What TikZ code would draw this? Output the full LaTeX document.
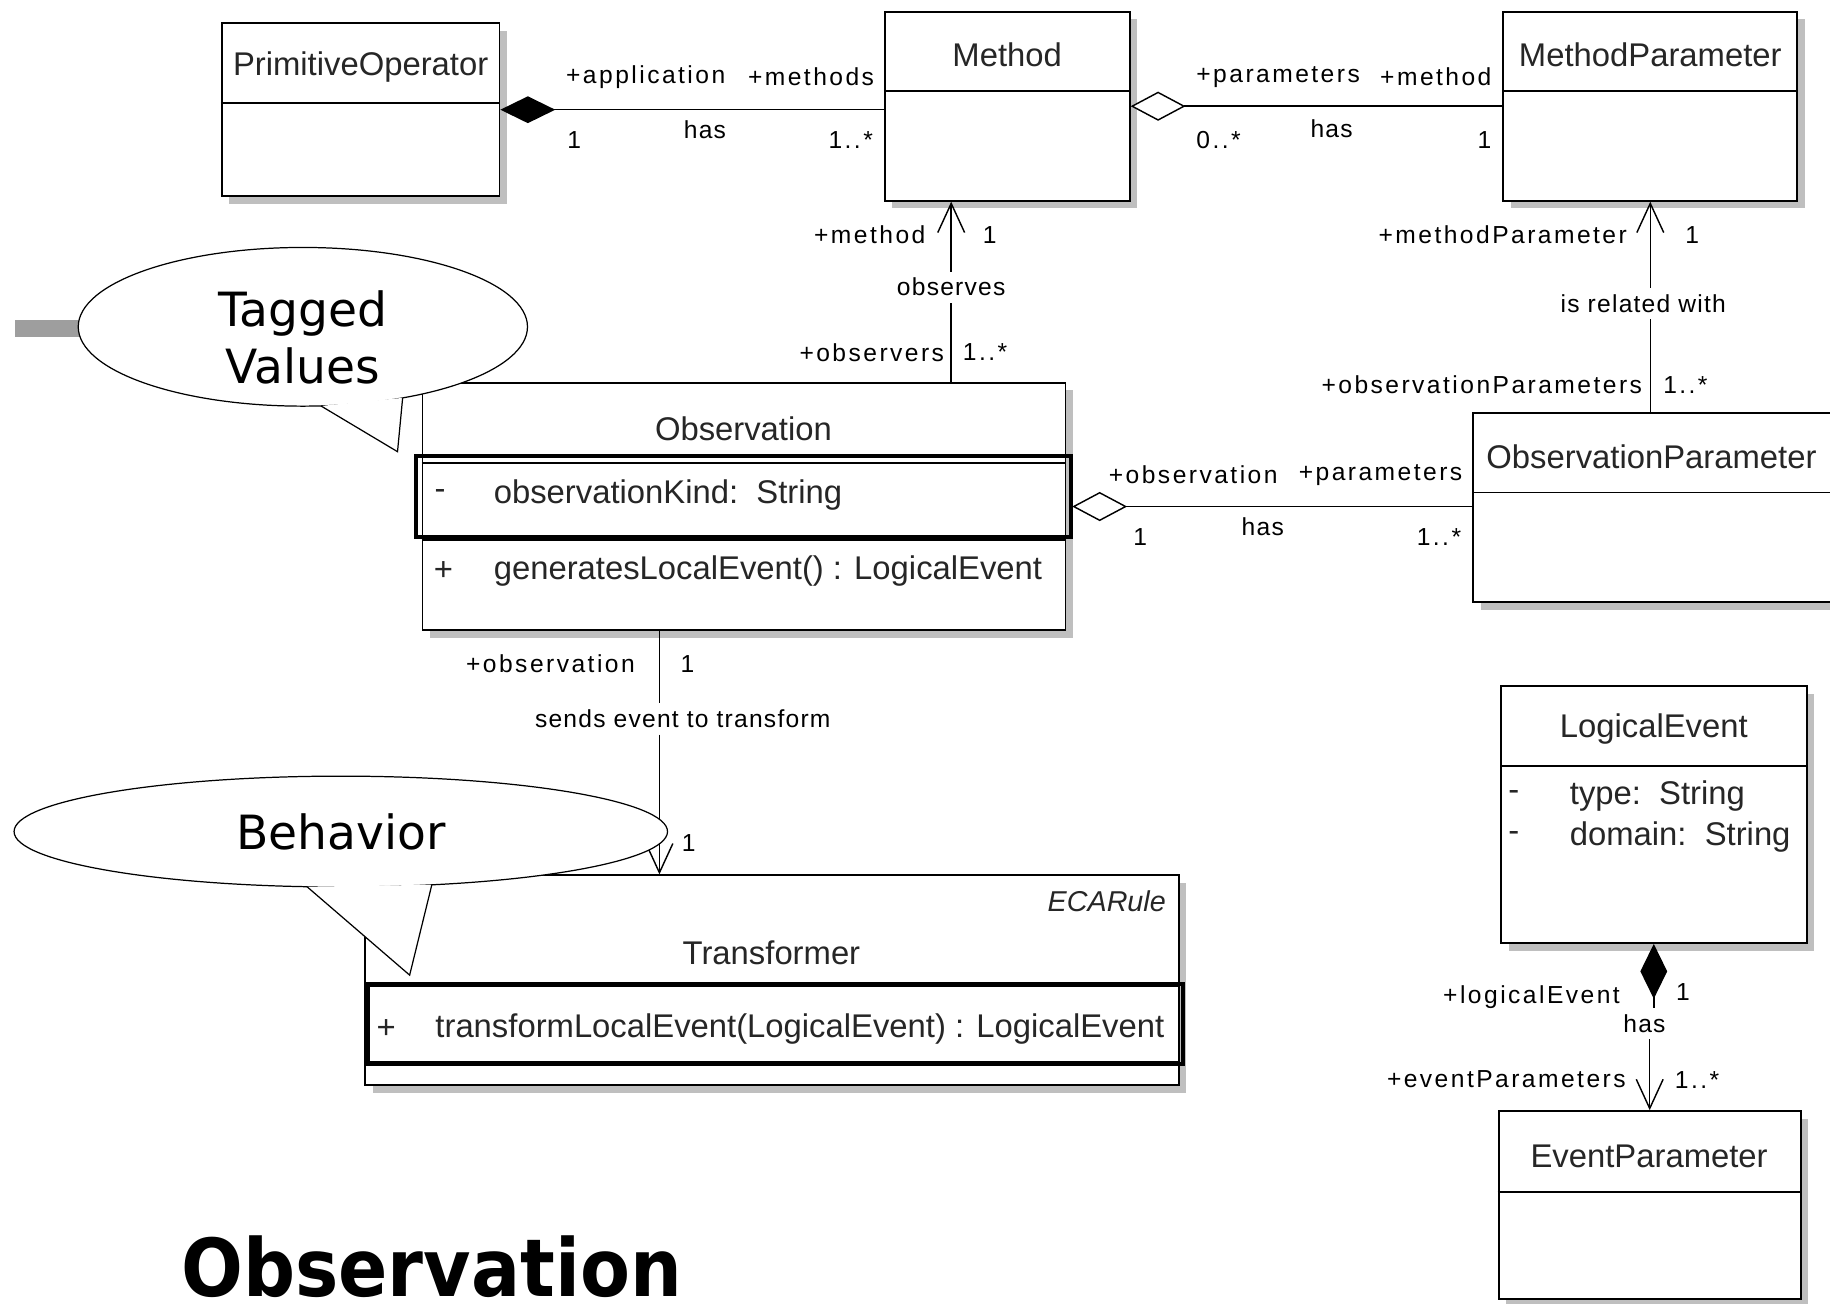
\documentclass[tikz,border=0pt]{standalone}
\usepackage{fontspec}
\setmainfont{Liberation Sans}
\newfontfamily\lblfont[LetterSpace=10]{Liberation Sans}
\newfontfamily\namefont[LetterSpace=5]{Liberation Sans}
\newfontfamily\bubblefont{DejaVu Sans}
\newfontfamily\headfont[FakeStretch=0.91]{DejaVu Sans}
\usetikzlibrary{shapes,positioning,calc,arrows.meta,shadows}

\begin{document}
\begin{tikzpicture}[
    x=0.02cm,
    y=-0.02cm,
    cls/.style={draw,line width=0.9pt,fill=white,inner sep=0pt,
      drop shadow={shadow xshift=0.13cm,shadow yshift=-0.13cm,fill=black!25,opacity=1}},
    hilite/.style={draw,line width=2pt,inner sep=0pt},
    sep/.style={line width=0.9pt},
    txt/.style={font=\fontsize{16}{19}\selectfont,text=black!85,inner sep=1pt},
    lbl/.style={font=\lblfont\fontsize{12}{14}\selectfont,inner sep=1pt},
    assoc/.style={font=\namefont\fontsize{12}{14}\selectfont,inner sep=3pt},
    line/.style={line width=0.7pt},
    nav/.style={-{Straight Barb[length=0.5cm,width=0.46cm]}},
    comp/.style={{Diamond[length=0.94cm,width=0.46cm]}-},
    aggr/.style={{Diamond[fill=white,length=0.94cm,width=0.5cm]}-},
    bubble/.style={ellipse,draw,fill=white,line width=0.6pt,inner sep=0pt,
      font=\bubblefont\fontsize{23}{28}\selectfont},
    bubbletxt/.style={align=center,inner sep=0pt,font=\bubblefont\fontsize{23}{28}\selectfont}
    ]
    \useasboundingbox (0,0) rectangle (1568,1117);
    \clip (0,0) rectangle (1568,1117);

    % classes
    \node[cls,minimum width=4.76cm,minimum height=2.96cm] (prim) at (309,94) {};
    \node[cls,minimum width=4.2cm,minimum height=3.24cm] (method) at (863,91) {};
    \node[cls,minimum width=5.04cm,minimum height=3.24cm] (mparam) at (1414,91) {};
    \node[cls,minimum width=11.02cm,minimum height=4.24cm] (obs) at (637.5,434) {};
    \node[cls,minimum width=6.36cm,minimum height=3.24cm] (oparam) at (1421,435) {};
    \node[cls,minimum width=5.24cm,minimum height=4.4cm] (logical) at (1417,698) {};
    \node[cls,minimum width=13.94cm,minimum height=3.6cm] (trans) at (661.5,840) {};
    \node[cls,minimum width=5.18cm,minimum height=3.22cm] (eparam) at (1413.5,1032.5) {};

    % compartments
    \draw[sep] (prim.west |- 0,88) -- (prim.east |- 0,88);
    \draw[sep] (method.west |- 0,78) -- (method.east |- 0,78);
    \draw[sep] (mparam.west |- 0,78) -- (mparam.east |- 0,78);
    \draw[sep] (obs.west |- 0,397) -- (obs.east |- 0,397);
    \draw[sep] (obs.west |- 0,463) -- (obs.east |- 0,463);
    \draw[sep] (oparam.west |- 0,422) -- (oparam.east |- 0,422);
    \draw[sep] (logical.west |- 0,656) -- (logical.east |- 0,656);
    \draw[sep] (trans.west |- 0,845) -- (trans.east |- 0,845);
    \draw[sep] (trans.west |- 0,910) -- (trans.east |- 0,910);
    \draw[sep] (eparam.west |- 0,1021) -- (eparam.east |- 0,1021);

    % highlighted rows
    \node[hilite,minimum width=11.24cm,minimum height=1.38cm] (okind) at (637,425.5) {};
    \node[hilite,minimum width=13.98cm,minimum height=1.38cm] (tbox) at (664.5,877.5) {};

    % class texts
    \node[txt] (primname) at (309,57) {PrimitiveOperator};
    \node[txt] (methodname) at (863,47) {Method};
    \node[txt] (mparamname) at (1414,47) {MethodParameter};
    \node[txt] (obsname) at (637,367) {Observation};
    \node[txt] (okminus) at (377,424) {-};
    \node[txt,anchor=west] (okattr) at (421,424) {observationKind:\ \ String};
    \node[txt] (opplus) at (380,489) {+};
    \node[txt,anchor=west] (opname) at (421,489) {generatesLocalEvent() : LogicalEvent};
    \node[txt] (oparamname) at (1415,391) {ObservationParameter};
    \node[txt] (logname) at (1417,625) {LogicalEvent};
    \node[txt] (typeminus) at (1297,682) {-};
    \node[txt,anchor=west] (typeattr) at (1343,682) {type:\ \ String};
    \node[txt] (domminus) at (1297,717) {-};
    \node[txt,anchor=west] (domattr) at (1343,717) {domain:\ \ String};
    \node[txt,anchor=east,font=\itshape\fontsize{14}{16}\selectfont] (stereo) at (1001,772) {ECARule};
    \node[txt] (transname) at (661,816) {Transformer};
    \node[txt] (tplus) at (331,882) {+};
    \node[txt,anchor=west] (tname) at (371,882) {transformLocalEvent(LogicalEvent) : LogicalEvent};
    \node[txt] (eparamname) at (1413,991) {EventParameter};

    % association names
    \node[assoc] (observes) at (815,246) {observes};
    \node[assoc] (isrel) at (1408,260) {is related with};
    \node[assoc] (sends) at (585,616) {sends event to transform};
    \node[assoc] (has4) at (1409,877) {has};

    % horizontal
    \draw[line,comp] (prim.east) -- (prim.east -| method.west);
    \draw[line,aggr] (method.east) -- (method.east -| mparam.west);
    \draw[line,aggr] ([xshift=0.1cm]obs.east) -- (obs.east -| oparam.west);
    % vertical
    \coordinate (obsx) at ([xshift=-0.96cm]method.south);
    \draw[line] (obs.north -| obsx) -- (observes.south -| obsx);
    \draw[line,nav] (observes.north -| obsx) -- (obsx);
    \draw[line] (oparam.north -| mparam.south) -- (isrel.south -| mparam.south);
    \draw[line,nav] (isrel.north -| mparam.south) -- (mparam.south);
    \coordinate (sendx) at ([xshift=-1.45cm]obs.south);
    \draw[line] (sendx) -- (sends.north -| sendx);
    \draw[line,nav] (sends.south -| sendx) -- (trans.north -| sendx);
    \draw[line,comp] (logical.south) -- (has4.north -| logical.south);
    \draw[line,nav] (has4.south -| eparam.north) -- (eparam.north);

    % role and multiplicity labels
    \node[lbl,anchor=west] (app) at (483,66) {+application};
    \node[lbl,anchor=east] (meths) at (751,66) {+methods};
    \node[lbl] (m1) at (492,120) {1};
    \node[assoc,inner sep=1pt] (has1) at (604,111) {has};
    \node[lbl,anchor=east] (m2) at (750,120) {1..*};
    \node[lbl,anchor=west] (params) at (1023,66) {+parameters};
    \node[lbl,anchor=east] (meth) at (1280,66) {+method};
    \node[lbl,anchor=west] (m3) at (1023,120) {0..*};
    \node[assoc,inner sep=1pt] (has2) at (1141,110) {has};
    \node[lbl] (m4) at (1272,120) {1};
    \node[lbl,anchor=east] (rmeth) at (795,201) {+method};
    \node[lbl] (m5) at (848,201) {1};
    \node[lbl,anchor=east] (robs) at (811,302) {+observers};
    \node[lbl,anchor=west] (m6) at (823,302) {1..*};
    \node[lbl,anchor=east] (rmpar) at (1396,201) {+methodParameter};
    \node[lbl] (m7) at (1450,201) {1};
    \node[lbl,anchor=east] (ropar) at (1409,330) {+observationParameters};
    \node[lbl,anchor=west] (m8) at (1423,330) {1..*};
    \node[lbl,anchor=west] (robs2) at (948,407) {+observation};
    \node[lbl,anchor=east] (rpar2) at (1255,407) {+parameters};
    \node[lbl] (m9) at (977,460) {1};
    \node[assoc,inner sep=1pt] (has3) at (1082,451) {has};
    \node[lbl,anchor=east] (m10) at (1254,460) {1..*};
    \node[lbl,anchor=east] (robs3) at (546,569) {+observation};
    \node[lbl] (m11) at (589,569) {1};
    \node[lbl] (m12) at (590,722) {1};
    \node[lbl,anchor=east] (rlog) at (1390,854) {+logicalEvent};
    \node[lbl] (m13) at (1442,850) {1};
    \node[lbl,anchor=east] (rep) at (1395,925) {+eventParameters};
    \node[lbl,anchor=west] (m14) at (1433,925) {1..*};

    % callouts
    \fill[black!38] (13,274) rectangle (90,289);
    \node[bubble,minimum width=7.7cm,minimum height=2.72cm] (tagged) at (259.5,280) {};
    \fill[white] (275,347.8) -- (340.6,387) -- (345,340.9) -- cycle;
    \draw[line width=0.6pt] (275,347.8) -- (340.6,387) -- (345,340.9);
    \node[bubbletxt] (taggedtxt) at (259.5,289) {Tagged\\Values};

    \node[bubble,minimum width=11.2cm,minimum height=1.9cm] (behav) at (292,712.5) {Behavior};
    \fill[white] (263,759.7) -- (351,835.5) -- (370,758.1) -- cycle;
    \draw[line width=0.6pt] (263,759.7) -- (351,835.5) -- (370,758.1);

    % heading
    \node[anchor=base west,inner sep=0pt,font=\headfont\bfseries\fontsize{39}{44}\selectfont] (heading) at (155,1111) {Observation};
\end{tikzpicture}
\end{document}
